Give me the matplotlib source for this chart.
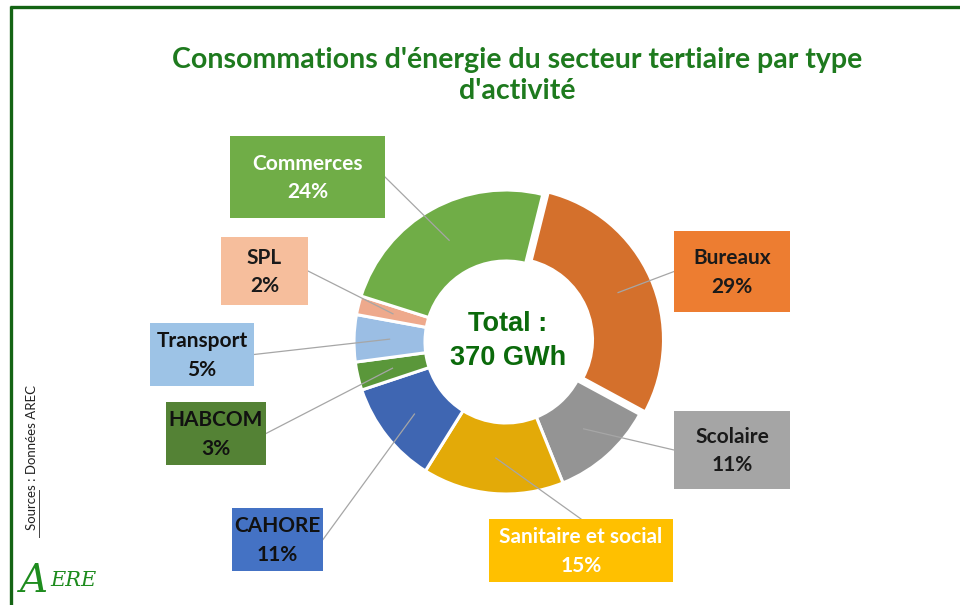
import numpy as np
import matplotlib
matplotlib.use("Agg")
import matplotlib.pyplot as plt
from matplotlib.patches import Rectangle

# ---- data ----
categories = ["Bureaux", "Scolaire", "Sanitaire et social", "CAHORE",
              "HABCOM", "Transport", "SPL", "Commerces"]
values = [29, 11, 15, 11, 3, 5, 2, 24]
slice_colors = ["#D4702C", "#949494", "#E3AA08", "#3F66B2",
                "#5A973A", "#9BBEE4", "#EEA98C", "#70AD47"]
box_colors = ["#ED7D31", "#A5A5A5", "#FFC000", "#4472C4",
              "#548235", "#9DC3E6", "#F6BE9C", "#70AD47"]
text_colors = ["#1a1a1a", "#1a1a1a", "white", "#111111",
               "#111111", "#111111", "#1a1a1a", "white"]
explode_px = [6, 0, 0, 0, 0, 0, 0, 0]
title_lines = ["Consommations d'énergie du secteur tertiaire par type", "d'activité"]
total_text = ["Total :", "370 GWh"]
source = "Sources : Données AREC"

# layout (pixel boxes: x0, y0, x1, y1 in image coords) and anchor side
boxes = {
    "Bureaux": (674, 231, 790, 312, "left"),
    "Scolaire": (674, 411, 790, 489, "left"),
    "Sanitaire et social": (489, 519, 673, 582, "top"),
    "CAHORE": (232, 508, 323, 571, "right"),
    "HABCOM": (166, 402, 266, 465, "right"),
    "Transport": (150, 323, 254, 386, "right"),
    "SPL": (221, 237, 308, 305, "right"),
    "Commerces": (230, 136, 385, 218, "right"),
}

W, H = 960, 605
fig = plt.figure(figsize=(W / 100, H / 100), dpi=100)
ax = fig.add_axes([0, 0, 1, 1])

def Y(y):
    return H - y

cx, cy = 506, Y(342)
R = 152
ring_w = 71
start = 90 - 14

ax.pie(values, colors=slice_colors, startangle=start, counterclock=False,
       radius=R, center=(cx, cy), explode=explode_px,
       wedgeprops=dict(width=ring_w, edgecolor="white", linewidth=2.2))
ax.set_xlim(0, W)
ax.set_ylim(0, H)
ax.set_aspect("equal")
ax.axis("off")

# leader lines and label boxes
fracs = np.array(values) / np.sum(values)
cum = np.concatenate([[0], np.cumsum(fracs)[:-1]])
rmid = R - ring_w / 2
font_lbl = "Lato"
for i, name in enumerate(categories):
    th = np.deg2rad(start - 360 * (cum[i] + fracs[i] / 2))
    px = cx + (rmid + explode_px[i]) * np.cos(th)
    py = cy + (rmid + explode_px[i]) * np.sin(th)
    x0, y0, x1, y1, side = boxes[name]
    if side == "left":
        ax_, ay_ = x0, (y0 + y1) / 2
    elif side == "right":
        ax_, ay_ = x1, (y0 + y1) / 2
    else:
        ax_, ay_ = (x0 + x1) / 2, y0
    ax.plot([px, ax_], [py, Y(ay_)], color="#A6A6A6", lw=0.9, zorder=3)
    ax.add_patch(Rectangle((x0, Y(y1)), x1 - x0, y1 - y0,
                           facecolor=box_colors[i], edgecolor="none", zorder=4))
    pct = round(values[i] / sum(values) * 100)
    ax.text((x0 + x1) / 2, Y((y0 + y1) / 2 + 1), f"{name}\n{pct}%",
            ha="center", va="center", fontsize=15, fontweight="bold",
            family=font_lbl, color=text_colors[i], linespacing=1.55, zorder=5)

# centre text
ax.text(cx + 2, Y(324), total_text[0], ha="center", va="center",
        fontsize=19.5, fontweight="bold", family="Liberation Sans", color="#0B6A0B")
ax.text(cx + 2, Y(358), total_text[1], ha="center", va="center",
        fontsize=19.5, fontweight="bold", family="Liberation Sans", color="#0B6A0B")

# title
ax.text(517, Y(60), title_lines[0], ha="center", va="center", fontsize=20.5,
        fontweight="bold", family="Lato", color="#1E7A1E")
ax.text(517, Y(91), title_lines[1], ha="center", va="center", fontsize=20.5,
        fontweight="bold", family="Lato", color="#1E7A1E")

# source (rotated) with underline on "Sources"
ax.text(32, Y(458), source, rotation=90, ha="center", va="center",
        fontsize=9.5, family="Lato", color="#222222")
ax.plot([38.5, 38.5], [Y(537), Y(490)], color="#444444", lw=0.7)

# logo
ax.text(20, Y(582), "A", fontsize=28, family="DejaVu Serif", style="italic",
        color="#1E8C1E", ha="left", va="center")
ax.text(50, Y(580), "ERE", fontsize=15, family="DejaVu Serif", style="italic",
        color="#1E8C1E", ha="left", va="center")

# frame
ax.plot([10.5, 10.5], [Y(5.5), 0], color="#146414", lw=2.4, solid_capstyle="butt")
ax.plot([10, W], [Y(6.5), Y(6.5)], color="#146414", lw=2.4, solid_capstyle="butt")

fig.savefig("out.png", dpi=100)
